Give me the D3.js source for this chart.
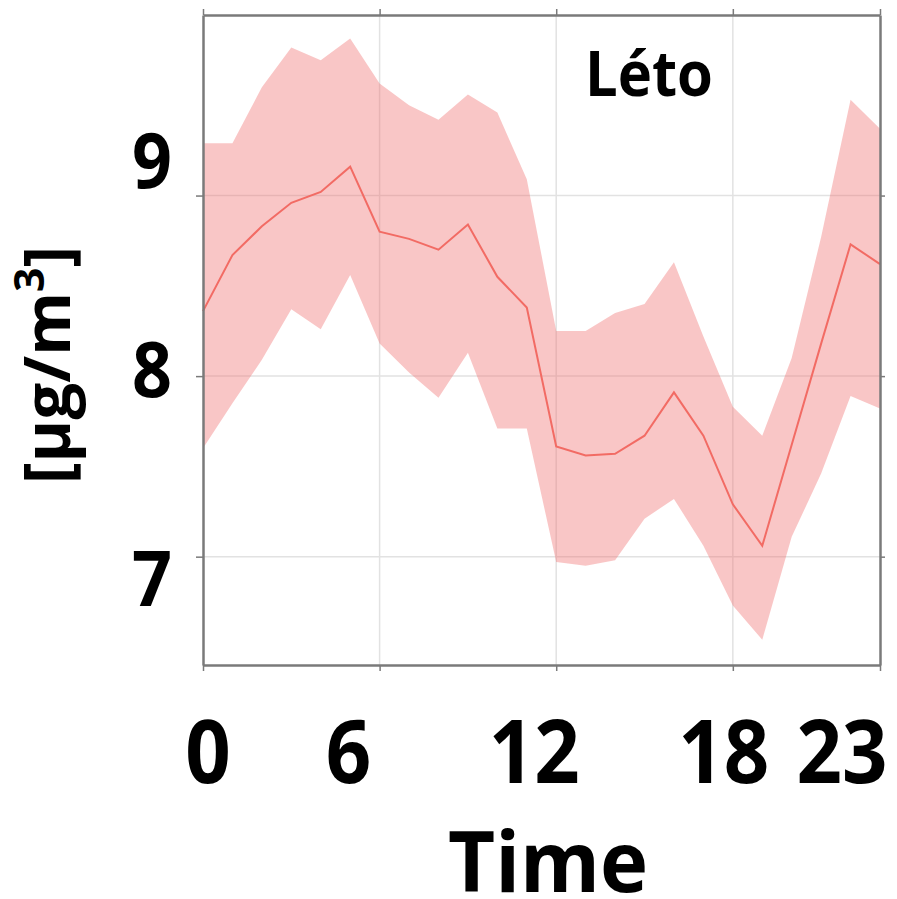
<!DOCTYPE html>
<html>
<head>
<meta charset="utf-8">
<script src="https://cdn.jsdelivr.net/npm/d3@7"></script>
<style>
  body { margin: 0; background: #fff; }
  text { font-family: "Open Sans", sans-serif; font-weight: bold; fill: #000; }
</style>
</head>
<body>
<div id="chart"></div>
<script>
// hour of day
var hours = [0, 1, 2, 3, 4, 5, 6, 7, 8, 9, 10, 11, 12, 13, 14, 15, 16, 17, 18, 19, 20, 21, 22, 23];
// mean concentration (line)
var meanVals = [8.36, 8.67, 8.83, 8.96, 9.02, 9.16, 8.80, 8.76, 8.70, 8.84, 8.55, 8.38,
                7.61, 7.56, 7.57, 7.67, 7.91, 7.67, 7.29, 7.06, 7.62, 8.18, 8.73, 8.62];
// band edges
var upperVals = [9.29, 9.29, 9.60, 9.82, 9.75, 9.87, 9.62, 9.50, 9.42, 9.56, 9.46, 9.09,
                 8.25, 8.25, 8.35, 8.40, 8.63, 8.22, 7.83, 7.67, 8.10, 8.77, 9.53, 9.37];
var lowerVals = [7.60, 7.85, 8.09, 8.37, 8.26, 8.56, 8.18, 8.02, 7.88, 8.13, 7.71, 7.71,
                 6.97, 6.95, 6.98, 7.21, 7.32, 7.06, 6.73, 6.54, 7.11, 7.46, 7.89, 7.82];
var xTicks = [0, 6, 12, 18, 23];
var yTicks = [7, 8, 9];

var W = 897, H = 899;
var margin = {top: 15, right: 17, bottom: 234, left: 203};
var width = W - margin.left - margin.right,
    height = H - margin.top - margin.bottom;

var data = hours.map(function(h, i) {
  return {h: h, mean: meanVals[i], hi: upperVals[i], lo: lowerVals[i]};
});

var svg = d3.select("#chart").append("svg")
  .attr("width", W)
  .attr("height", H);

var g = svg.append("g")
  .attr("transform", "translate(" + margin.left + "," + margin.top + ")");

var x = d3.scaleLinear().domain([0, 23]).range([0, width]);
var y = d3.scaleLinear().domain([6.4, 10]).range([height, 0]);

// grid
g.append("g").selectAll("line.gx")
  .data(xTicks.filter(function(d) { return d > 0 && d < 23; }))
  .enter().append("line")
  .attr("x1", function(d) { return x(d); })
  .attr("x2", function(d) { return x(d); })
  .attr("y1", 0).attr("y2", height)
  .attr("stroke", "#e2e2e2").attr("stroke-width", 1.5);
g.append("g").selectAll("line.gy")
  .data(yTicks)
  .enter().append("line")
  .attr("y1", function(d) { return y(d); })
  .attr("y2", function(d) { return y(d); })
  .attr("x1", 0).attr("x2", width)
  .attr("stroke", "#e2e2e2").attr("stroke-width", 1.5);

// band
var area = d3.area()
  .x(function(d) { return x(d.h); })
  .y0(function(d) { return y(d.lo); })
  .y1(function(d) { return y(d.hi); });
g.append("path")
  .datum(data)
  .attr("d", area)
  .attr("fill", "#f07070")
  .attr("fill-opacity", 0.4);

// mean line
var line = d3.line()
  .x(function(d) { return x(d.h); })
  .y(function(d) { return y(d.mean); });
g.append("path")
  .datum(data)
  .attr("d", line)
  .attr("fill", "none")
  .attr("stroke", "#f26b64")
  .attr("stroke-width", 2);

// axes (box)
function styleAxis(sel) {
  sel.selectAll("path.domain").attr("stroke", "#7a7a7a").attr("stroke-width", 2.5);
  sel.selectAll(".tick line").attr("stroke", "#7a7a7a").attr("stroke-width", 1.5);
  sel.selectAll(".tick text").remove();
}
g.append("g").attr("transform", "translate(0," + height + ")")
  .call(d3.axisBottom(x).tickValues(xTicks).tickSize(6).tickSizeOuter(0))
  .call(styleAxis);
g.append("g")
  .call(d3.axisTop(x).tickValues(xTicks).tickSize(6).tickSizeOuter(0))
  .call(styleAxis);
g.append("g")
  .call(d3.axisLeft(y).tickValues(yTicks).tickSize(7).tickSizeOuter(0))
  .call(styleAxis);
g.append("g").attr("transform", "translate(" + width + ",0)")
  .call(d3.axisRight(y).tickValues(yTicks).tickSize(5).tickSizeOuter(0))
  .call(styleAxis);

// x tick labels (hand-placed in the original, nudged off the ticks)
var xLabelShift = {0: 5, 6: -31, 12: -22, 18: -9, 23: -38};
g.selectAll("text.xl")
  .data(xTicks)
  .enter().append("text")
  .attr("class", "xl")
  .attr("x", function(d) { return x(d) + xLabelShift[d]; })
  .attr("y", 768)
  .attr("text-anchor", "middle")
  .attr("font-size", 88)
  .attr("textLength", function(d) { return String(d).length * 45.5; })
  .attr("lengthAdjust", "spacingAndGlyphs")
  .text(function(d) { return d; });

// y tick labels
var yLabelShift = {9: -8, 8: 21, 7: 49};
g.selectAll("text.yl")
  .data(yTicks)
  .enter().append("text")
  .attr("class", "yl")
  .attr("x", -51)
  .attr("y", function(d) { return y(d) + yLabelShift[d]; })
  .attr("text-anchor", "middle")
  .attr("font-size", 77)
  .attr("textLength", 40)
  .attr("lengthAdjust", "spacingAndGlyphs")
  .text(function(d) { return d; });

// titles
svg.append("text")
  .attr("x", 548).attr("y", 892)
  .attr("text-anchor", "middle")
  .attr("font-size", 85)
  .attr("textLength", 200)
  .attr("lengthAdjust", "spacingAndGlyphs")
  .text("Time");

var yt = svg.append("text")
  .attr("transform", "translate(70,365) rotate(-90)")
  .attr("text-anchor", "middle")
  .attr("font-size", 64)
  .attr("textLength", 238)
  .attr("lengthAdjust", "spacingAndGlyphs");
yt.append("tspan").text("[µg/m");
yt.append("tspan").attr("dy", -26).attr("font-size", 42).text("3");
yt.append("tspan").attr("dy", 26).text("]");

svg.append("text")
  .attr("x", 649).attr("y", 96)
  .attr("text-anchor", "middle")
  .attr("font-size", 63)
  .attr("textLength", 128)
  .attr("lengthAdjust", "spacingAndGlyphs")
  .text("Léto");
</script>
</body>
</html>
